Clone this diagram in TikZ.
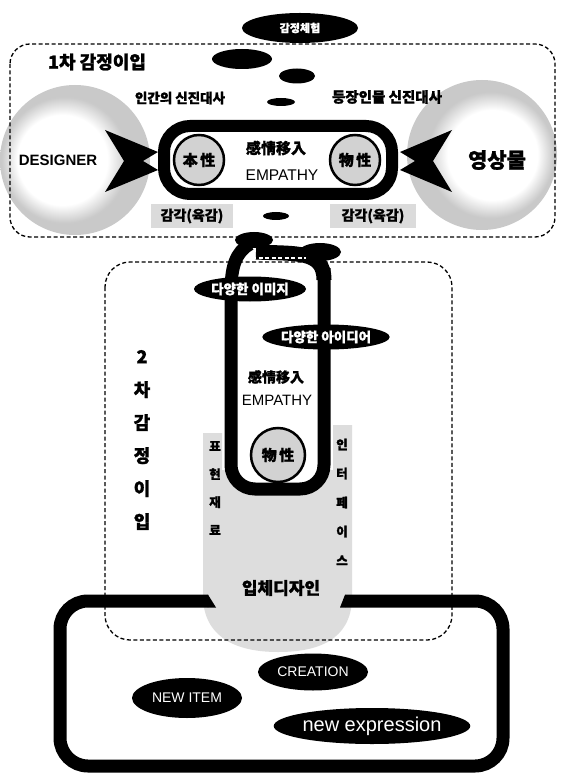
\documentclass[tikz,border=0pt]{standalone}
\usepackage{fontspec}
\setmainfont{Liberation Sans}
\newfontfamily\kr{Noto Sans CJK KR}[BoldFeatures={FakeBold=1.2}]
\usetikzlibrary{shapes.geometric}
\pgfdeclareradialshading{haloL}{\pgfpoint{-6bp}{0bp}}{color(0bp)=(white); color(15bp)=(white); color(21bp)=(gray!42); color(25bp)=(gray!42); color(50bp)=(gray!42)}
\pgfdeclareradialshading{haloR}{\pgfpoint{5bp}{0bp}}{color(0bp)=(white); color(15bp)=(white); color(21bp)=(gray!42); color(25bp)=(gray!42); color(50bp)=(gray!42)}
\newcommand{\fs}[1]{\fontsize{#1}{#1}\selectfont}
\begin{document}
\begin{tikzpicture}[x=1pt,y=-1pt,
  blob/.style={ellipse, fill=black, inner sep=0pt},
  dbox/.style={draw, line width=1.3pt, dash pattern=on 4pt off 2.5pt},
  krb/.style={font=\kr\bfseries\fs{#1}},
  wkr/.style={text=white, font=\kr\bfseries\fs{#1}},
  wlat/.style={text=white, font=\fs{#1}},
  hcirc/.style={circle, draw, line width=2.5pt, fill=gray!35, inner sep=0pt}
]
\useasboundingbox (0,0) rectangle (560,775);
\fill[white] (0,0) rectangle (560,775);

% gray halos of the first stage
\shade[shading=haloL] (75,160) circle (75pt);
\shade[shading=haloR] (482,155) circle (75pt);
\node (senseL) [krb=14, fill=gray!28, inner xsep=10pt, inner ysep=5pt] at (192,216) {감각(육감)};
\node (senseR) [krb=14, fill=gray!28, inner xsep=12pt, inner ysep=5pt] at (373,216) {감각(육감)};

% box of the first stage
\draw[dbox, rounded corners=20pt] (10,44) rectangle (555,237);

% gray area below the U
\fill[gray!27] (203,433) -- (203,600) .. controls (206,640) and (240,652) .. (278,652)
  .. controls (318,652) and (350,640) .. (352,600) -- (352,425) -- (333,425) -- (333,470) -- (222,470) -- (222,433) -- cycle;

% box of the second stage
\draw[dbox, rounded corners=25pt] (105,262) rectangle (452,640);

% bottom thick box with its opening
\draw[line width=13pt, rounded corners=28pt] (208,601) -- (60,601) -- (60,766) -- (503,766) -- (503,601) -- (345,601);
\fill (207.9,594.5) -- (216,607.5) -- (207.9,607.5) -- cycle;
\fill (345.1,594.5) -- (340,607.5) -- (345.1,607.5) -- cycle;

% arrows
\fill (105,130) -- (158,152) -- (143,161) -- (158,170) -- (105,192) -- (124,161) -- cycle;
\fill (452,130) -- (400,152) -- (415,161) -- (400,170) -- (452,192) -- (433,161) -- cycle;

% thick rounded rectangle of the first stage
\draw[line width=12pt, fill=white, rounded corners=26pt] (164,126) rectangle (392,194);

% U of the second stage
\draw[line width=13pt, fill=white, rounded corners=24pt] (231,282) -- (231,489) -- (324,489) -- (324,268);
\draw[line width=13pt] (231,292) .. controls (231,266) and (236,252) .. (250,244);
\draw[line width=15pt] (256,252) .. controls (296,254) and (324,250) .. (324,280);
\node (tailblob) [blob, minimum width=42pt, minimum height=18pt] at (320,252) {};
\draw[white, line width=1.3pt, dash pattern=on 4pt off 2.5pt] (252,258) -- (306,258);

% black ellipses
\node (exp) [blob, minimum width=116pt, minimum height=30pt, wkr=11] at (300,28) {감정체험};
\node (bA) [blob, minimum width=60pt, minimum height=20pt] at (242,59) {};
\node (bB) [blob, minimum width=36pt, minimum height=15pt] at (297,76) {};
\node (bC) [blob, minimum width=28pt, minimum height=8pt] at (281,102) {};
\node (bS) [blob, minimum width=26pt, minimum height=8pt] at (276,216) {};
\node (bD) [blob, minimum width=38pt, minimum height=16pt] at (254,240) {};

% first stage texts
\node (t1) [krb=18] at (97,62) {1차 감정이입};
\node (metaL) [krb=13.5] at (180,98) {인간의 신진대사};
\node (metaR) [krb=14.5] at (387,97) {등장인물 신진대사};
\node (designer) [font=\bfseries\fs{15}] at (58,160) {DESIGNER};
\node (video) [krb=21] at (497,160) {영상물};
\node (hon) [hcirc, minimum size=50pt, krb=15] at (199,160) {本\,性};
\node (mul) [hcirc, minimum size=50pt, krb=15] at (355,160) {物\,性};
\node (emp1k) [krb=15] at (276,148) {感情移入};
\node (emp1) [font=\fs{15.5}] at (282,175) {EMPATHY};

% second stage texts
\node (img) [blob, minimum width=112pt, minimum height=25pt, wkr=13.5] at (250,289) {다양한 이미지};
\node (idea) [blob, minimum width=126pt, minimum height=25pt, wkr=13.5] at (326,337) {다양한 아이디어};
\node (emp2k) [krb=14] at (276,377) {感情移入};
\node (emp2) [font=\fs{15}] at (277,400) {EMPATHY};
\node (mul2) [hcirc, minimum size=54pt, krb=15] at (278,455) {物\,性};
\node (t2) [align=center, font=\kr\bfseries\fontsize{18}{33}\selectfont] at (142,440) {2\\차\\감\\정\\이\\입};
\node (mat) [align=center, font=\kr\bfseries\fontsize{12.5}{28}\selectfont] at (215,488) {표\\현\\재\\료};
\node (intf) [align=center, font=\kr\bfseries\fontsize{12.5}{29}\selectfont] at (342,502) {인\\터\\페\\이\\스};
\node (solid) [krb=17] at (281,588) {입체디자인};

% bottom ellipses
\node (newitem) [blob, minimum width=110pt, minimum height=40pt, wlat=14] at (187,698) {NEW ITEM};
\node (creation) [blob, minimum width=110pt, minimum height=37pt, wlat=14] at (313,672) {CREATION};
\node (newexp) [blob, minimum width=180pt, minimum height=36pt, wlat=20] at (372,726) {new expression};
\end{tikzpicture}
\end{document}
